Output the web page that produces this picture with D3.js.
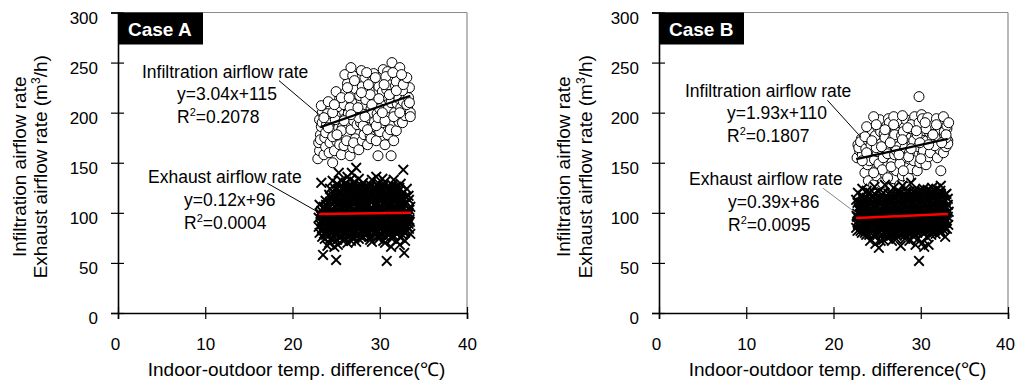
<!DOCTYPE html>
<html>
<head>
<meta charset="utf-8">
<script src="https://cdn.jsdelivr.net/npm/d3@7"></script>
<style>
  body { margin: 0; background: #fff; }
  svg { display: block; }
  text { font-family: "Liberation Sans", Arial, sans-serif; fill: #000; }
</style>
</head>
<body>
<div id="chart"></div>
<script>
// x = indoor-outdoor temp. difference (C), y = airflow rate (m3/h)
var xTicks = [0, 10, 20, 30, 40];
var yTicks = [0, 50, 100, 150, 200, 250, 300];
var caseNames = ["Case A", "Case B"];

// Case A infiltration (circles)
var infA = [
  [22.9,154],[23.1,162],[23.0,170],[23.2,178],[23.3,186],[23.1,193],[23.4,200],[23.3,207],[23.2,173],[23.4,190],
  [23.6,158],[23.8,166],[23.7,175],[24.0,182],[23.9,188],[24.2,196],[24.4,204],[24.1,211],[24.3,170],[23.8,180],[24.4,192],[24.0,199],[24.2,160],
  [24.6,150],[24.8,162],[25.1,171],[24.7,180],[25.3,189],[24.9,197],[25.2,206],[25.4,214],[25.0,221],[24.6,176],[25.3,185],[24.9,193],[25.4,168],
  [25.6,158],[25.9,167],[26.2,176],[25.7,185],[26.0,194],[26.4,203],[25.8,212],[26.1,220],[26.3,229],[26.0,238],[25.6,182],[26.4,199],[25.9,208],[26.2,172],
  [26.6,157],[26.9,165],[27.2,174],[26.7,183],[27.0,192],[27.4,201],[26.8,210],[27.1,219],[27.3,228],[26.9,237],[26.7,245],[27.4,188],[26.6,205],[27.2,224],[27.0,170],
  [27.6,163],[28.0,172],[28.3,181],[27.8,190],[28.1,199],[28.4,208],[27.7,217],[28.0,226],[28.3,235],[27.9,242],[28.2,178],[27.6,195],[28.4,213],[28.1,187],
  [28.6,168],[28.9,177],[29.2,186],[28.7,195],[29.0,204],[29.4,213],[28.8,222],[29.1,231],[29.3,239],[28.6,183],[29.2,200],[28.9,218],[29.4,191],[29.0,174],
  [29.8,157],[29.6,172],[30.0,181],[30.3,190],[29.7,199],[30.1,208],[30.4,217],[29.9,226],[30.2,235],[30.4,243],[29.6,187],[30.0,204],[30.3,221],[29.8,195],
  [31.3,157],[30.6,168],[30.9,178],[31.2,187],[30.7,196],[31.0,205],[31.4,214],[30.8,223],[31.1,232],[30.9,241],[31.4,250],[30.6,192],[31.3,210],[31.0,228],[31.2,183],
  [31.6,172],[31.9,182],[32.2,191],[31.7,200],[32.0,209],[32.4,218],[31.8,227],[32.1,236],[32.3,245],[31.6,196],[32.2,214],[31.9,231],[32.4,205],
  [32.6,190],[32.9,197],[33.2,204],[32.7,211],[33.0,218],[33.4,225],[32.8,232],[33.5,200],[33.1,208],[33.3,215],[32.6,222],[33.5,196],
  [23.6,195],[24.1,185],[24.6,200],[25.1,178],[25.6,215],[25.9,192],[26.3,225],[26.7,198],[27.1,232],[27.5,205],[27.9,220],[28.3,196],[28.7,228],[29.1,208],[29.5,235],
  [29.9,214],[30.3,200],[30.7,236],[31.1,218],[31.5,240],[31.9,222],[32.3,200],[32.7,228],[33.1,235],[33.4,210],[32.5,238],[30.5,228],[28.5,240],[26.5,215],[24.8,208]
];

// Case A exhaust (crosses)
var exhA = [
  [23.1,80],[23.2,88],[23.0,95],[23.3,102],[23.1,108],[23.4,84],[23.3,92],[23.2,99],[23.4,76],[23.5,58],[23.3,130],[23.0,86],
  [23.6,79],[23.8,86],[23.7,93],[23.9,100],[23.6,106],[23.8,112],[23.7,74],[23.9,82],[23.6,97],[23.8,104],[24.0,67],[23.7,90],
  [24.1,77],[24.3,84],[24.2,91],[24.4,98],[24.1,105],[24.3,111],[24.2,118],[24.4,80],[24.1,94],[24.3,101],[24.2,70],[24.4,88],[24.3,124],
  [24.6,75],[24.8,82],[24.7,89],[24.9,96],[24.6,103],[24.8,110],[24.7,117],[24.9,124],[24.6,86],[24.8,93],[24.7,100],[24.9,79],[25.0,53],[24.8,66],[24.6,132],
  [25.1,73],[25.3,80],[25.2,87],[25.4,94],[25.1,101],[25.3,108],[25.2,115],[25.4,122],[25.1,129],[25.3,84],[25.2,97],[25.4,111],[25.3,140],[25.2,68],
  [25.6,76],[25.8,83],[25.7,90],[25.9,97],[25.6,104],[25.8,111],[25.7,118],[25.9,125],[25.6,132],[25.8,79],[25.7,94],[25.9,107],[25.6,120],[25.8,72],
  [26.1,74],[26.3,81],[26.2,88],[26.4,95],[26.1,102],[26.3,109],[26.2,116],[26.4,123],[26.1,130],[26.3,136],[26.2,85],[26.4,99],[26.1,113],[26.3,70],
  [26.6,77],[26.8,84],[26.7,91],[26.9,98],[26.6,105],[26.8,112],[26.7,119],[26.9,126],[26.6,133],[26.8,140],[26.7,80],[26.9,94],[26.6,108],[26.8,122],[26.7,72],
  [27.1,75],[27.3,82],[27.2,89],[27.4,96],[27.1,103],[27.3,110],[27.2,117],[27.4,124],[27.1,131],[27.3,145],[27.2,86],[27.4,100],[27.1,114],[27.3,71],
  [27.6,78],[27.8,85],[27.7,92],[27.9,99],[27.6,106],[27.8,113],[27.7,120],[27.9,127],[27.6,134],[27.8,81],[27.7,95],[27.9,109],[27.6,74],
  [28.1,76],[28.3,83],[28.2,90],[28.4,97],[28.1,104],[28.3,111],[28.2,118],[28.4,125],[28.1,87],[28.3,101],[28.2,114],[28.4,79],[28.1,130],
  [28.6,79],[28.8,86],[28.7,93],[28.9,100],[28.6,107],[28.8,114],[28.7,121],[28.9,128],[28.6,89],[28.8,103],[28.7,117],[28.9,73],[28.6,82],
  [29.1,77],[29.3,84],[29.2,91],[29.4,98],[29.1,105],[29.3,112],[29.2,119],[29.4,126],[29.1,133],[29.3,88],[29.2,102],[29.4,115],[29.1,71],
  [29.6,80],[29.8,87],[29.7,94],[29.9,101],[29.6,108],[29.8,115],[29.7,122],[29.9,129],[29.6,84],[29.8,98],[29.7,111],[29.9,74],[29.6,136],
  [30.1,78],[30.3,85],[30.2,92],[30.4,99],[30.1,106],[30.3,113],[30.2,120],[30.4,127],[30.1,89],[30.3,103],[30.2,116],[30.4,72],[30.3,134],
  [30.6,76],[30.8,83],[30.7,90],[30.9,97],[30.6,104],[30.8,111],[30.7,118],[30.9,125],[30.6,131],[30.8,87],[30.7,101],[30.9,114],[30.8,52],[30.6,70],
  [31.1,79],[31.3,86],[31.2,93],[31.4,100],[31.1,107],[31.3,114],[31.2,121],[31.4,128],[31.1,83],[31.3,97],[31.2,110],[31.4,74],[31.3,66],
  [31.6,77],[31.8,84],[31.7,91],[31.9,98],[31.6,105],[31.8,112],[31.7,119],[31.9,126],[31.6,88],[31.8,102],[31.7,115],[31.9,72],[31.6,133],
  [32.1,80],[32.3,87],[32.2,94],[32.4,101],[32.1,108],[32.3,115],[32.2,122],[32.4,129],[32.1,84],[32.3,98],[32.2,111],[32.4,75],[32.3,68],
  [32.6,78],[32.8,85],[32.7,92],[32.9,99],[32.6,106],[32.8,113],[32.7,120],[32.9,81],[32.6,95],[32.8,109],[32.7,143],[32.9,72],[32.8,60],
  [33.1,82],[33.3,89],[33.2,96],[33.4,103],[33.1,110],[33.3,117],[33.2,86],[33.4,93],[33.3,100],[33.1,124],[33.5,79],
  [23.35,82],[23.45,89],[23.25,97],[23.5,105],
  [23.85,78],[23.95,85],[23.75,92],[24.0,99],[23.85,108],
  [24.35,74],[24.45,81],[24.25,88],[24.5,95],[24.35,102],[24.4,115],
  [24.85,78],[24.95,85],[24.75,92],[25.0,99],[24.85,106],[24.9,113],[24.75,120],
  [25.35,76],[25.45,83],[25.25,90],[25.5,98],[25.35,105],[25.45,112],[25.25,119],[25.4,126],
  [25.85,74],[25.95,81],[25.75,88],[26.0,95],[25.85,102],[25.95,109],[25.75,116],[25.85,123],
  [26.35,77],[26.45,84],[26.25,91],[26.5,98],[26.35,105],[26.45,112],[26.25,119],[26.4,127],
  [26.85,75],[26.95,82],[26.75,89],[27.0,96],[26.85,103],[26.95,110],[26.75,117],[26.85,124],
  [27.35,78],[27.45,85],[27.25,92],[27.5,99],[27.35,106],[27.45,113],[27.25,120],[27.4,127],
  [27.85,76],[27.95,83],[27.75,90],[28.0,97],[27.85,104],[27.95,111],[27.75,118],[27.85,124],
  [28.35,79],[28.45,86],[28.25,93],[28.5,100],[28.35,107],[28.45,114],[28.25,121],
  [28.85,76],[28.95,83],[28.75,90],[29.0,97],[28.85,104],[28.95,111],[28.75,118],[28.85,125],
  [29.35,80],[29.45,87],[29.25,94],[29.5,101],[29.35,108],[29.45,115],[29.25,122],
  [29.85,77],[29.95,84],[29.75,91],[30.0,98],[29.85,105],[29.95,112],[29.75,119],[29.85,126],
  [30.35,81],[30.45,88],[30.25,95],[30.5,102],[30.35,109],[30.45,116],[30.25,123],
  [30.85,79],[30.95,86],[30.75,93],[31.0,100],[30.85,107],[30.95,114],[30.75,121],
  [31.35,82],[31.45,89],[31.25,96],[31.5,103],[31.35,110],[31.45,117],[31.25,124],
  [31.85,80],[31.95,87],[31.75,94],[32.0,101],[31.85,108],[31.95,115],[31.75,122],
  [32.35,83],[32.45,90],[32.25,97],[32.5,104],[32.35,111],[32.45,118],[32.25,125],
  [32.85,80],[32.95,88],[32.75,95],[33.0,102],[32.85,109],[32.95,116],
  [33.35,84],[33.45,91],[33.25,98],[33.5,106],[33.35,113]
];

// Case B infiltration (circles)
var infB = [
  [22.7,155],[23.0,162],[22.8,168],[23.2,174],[23.3,158],[22.9,165],[23.1,171],
  [23.6,140],[23.9,148],[24.2,156],[23.7,164],[24.0,172],[24.4,180],[23.8,186],[24.1,152],[24.3,168],[23.6,176],[24.0,132],
  [24.6,128],[24.9,137],[25.2,145],[24.7,153],[25.0,161],[25.4,169],[24.8,177],[25.1,185],[25.3,193],[24.6,196],[25.2,149],[24.9,165],[25.4,181],
  [25.6,130],[25.9,139],[26.2,147],[25.7,155],[26.0,163],[26.4,171],[25.8,179],[26.1,187],[26.3,194],[25.6,143],[26.2,159],[25.9,175],[26.4,190],
  [26.6,125],[26.9,134],[27.2,142],[26.7,150],[27.0,158],[27.4,166],[26.8,174],[27.1,182],[27.3,190],[26.9,196],[26.6,146],[27.2,162],[27.0,178],
  [27.6,128],[27.9,137],[28.2,145],[27.7,153],[28.0,161],[28.4,169],[27.8,177],[28.1,185],[28.3,193],[27.9,197],[27.6,149],[28.2,165],[28.0,181],
  [28.6,135],[28.9,144],[29.2,152],[28.7,160],[29.0,168],[29.4,176],[28.8,184],[29.1,192],[29.3,196],[28.6,156],[29.2,172],[28.9,188],
  [29.6,142],[29.9,150],[30.2,158],[29.7,166],[30.0,174],[30.4,182],[29.8,190],[30.1,198],[29.8,216],[30.3,162],[29.6,178],[30.2,194],
  [30.6,148],[30.9,156],[31.2,164],[30.7,172],[31.0,180],[31.4,188],[30.8,195],[31.1,160],[31.3,176],[30.6,184],
  [32.3,142],[31.9,155],[32.2,163],[31.7,171],[32.0,179],[32.4,187],[31.8,194],[31.6,167],[32.1,175],[32.3,183],
  [32.6,160],[32.9,166],[33.1,172],[32.7,178],[33.0,184],[32.8,190],[32.6,196],[33.1,169],[32.9,175],[32.7,181],[33.0,187],
  [23.3,152],[23.8,160],[24.4,172],[24.9,188],[25.5,166],[25.9,183],[26.5,170],[26.9,188],[27.5,158],[27.9,173],[28.5,185],[28.9,164],[29.5,182],
  [29.9,170],[30.5,190],[30.9,168],[31.4,178],[31.8,188],[32.4,170],[32.9,178],[33.2,190],[24.6,140],[26.2,135],[28.0,142],[30.0,154]
];

// Case B exhaust (crosses)
var exhB = [
  [22.6,85],[22.8,92],[22.7,99],[22.9,106],[22.6,113],[22.8,88],[22.7,96],[22.9,103],[22.8,120],
  [23.1,82],[23.3,89],[23.2,96],[23.4,103],[23.1,110],[23.3,117],[23.2,86],[23.4,100],[23.1,93],[23.3,124],
  [23.6,80],[23.8,87],[23.7,94],[23.9,101],[23.6,108],[23.8,115],[23.7,84],[23.9,97],[23.6,91],[23.8,122],
  [24.1,78],[24.3,85],[24.2,92],[24.4,99],[24.1,106],[24.3,113],[24.2,120],[24.4,82],[24.1,95],[24.3,109],[24.2,72],
  [24.6,77],[24.8,84],[24.7,91],[24.9,98],[24.6,105],[24.8,112],[24.7,119],[24.9,88],[24.6,101],[24.8,69],[24.7,126],
  [25.1,79],[25.3,86],[25.2,93],[25.4,100],[25.1,107],[25.3,114],[25.2,121],[25.4,83],[25.1,96],[25.3,110],[25.2,65],[25.4,72],
  [25.6,78],[25.8,85],[25.7,92],[25.9,99],[25.6,106],[25.8,113],[25.7,120],[25.9,82],[25.6,95],[25.8,108],[25.7,73],[25.9,128],
  [26.1,80],[26.3,87],[26.2,94],[26.4,101],[26.1,108],[26.3,115],[26.2,84],[26.4,97],[26.1,91],[26.3,119],[26.2,75],
  [26.6,77],[26.8,84],[26.7,91],[26.9,98],[26.6,105],[26.8,112],[26.7,119],[26.9,81],[26.6,94],[26.8,107],[26.7,72],[26.9,125],
  [27.1,79],[27.3,86],[27.2,93],[27.4,100],[27.1,107],[27.3,114],[27.2,83],[27.4,96],[27.1,90],[27.3,121],[27.2,74],
  [27.6,78],[27.8,85],[27.7,92],[27.9,99],[27.6,106],[27.8,113],[27.7,120],[27.9,82],[27.6,95],[27.8,109],[27.7,67],[27.9,127],
  [28.1,80],[28.3,87],[28.2,94],[28.4,101],[28.1,108],[28.3,115],[28.2,84],[28.4,97],[28.1,91],[28.3,121],[28.2,74],
  [28.6,79],[28.8,86],[28.7,93],[28.9,100],[28.6,107],[28.8,114],[28.7,121],[28.9,83],[28.6,96],[28.8,110],[28.7,72],[28.9,130],
  [29.1,81],[29.3,88],[29.2,95],[29.4,102],[29.1,109],[29.3,116],[29.2,85],[29.4,98],[29.1,92],[29.3,123],[29.2,76],[29.4,68],
  [29.6,80],[29.8,87],[29.7,94],[29.9,101],[29.6,108],[29.8,115],[29.7,84],[29.9,97],[29.6,91],[29.8,122],[29.8,52],[29.7,74],
  [30.1,82],[30.3,89],[30.2,96],[30.4,103],[30.1,110],[30.3,117],[30.2,86],[30.4,99],[30.1,93],[30.3,124],[30.2,70],[30.4,66],
  [30.6,81],[30.8,88],[30.7,95],[30.9,102],[30.6,109],[30.8,116],[30.7,85],[30.9,98],[30.6,92],[30.8,123],[30.7,76],[30.9,68],
  [31.1,83],[31.3,90],[31.2,97],[31.4,104],[31.1,111],[31.3,118],[31.2,87],[31.4,100],[31.1,94],[31.3,125],[31.2,78],
  [31.6,82],[31.8,89],[31.7,96],[31.9,103],[31.6,110],[31.8,117],[31.7,86],[31.9,99],[31.6,93],[31.8,124],[31.7,79],
  [32.1,84],[32.3,91],[32.2,98],[32.4,105],[32.1,112],[32.3,119],[32.2,88],[32.4,101],[32.1,95],[32.3,127],[32.2,80],
  [32.6,83],[32.8,90],[32.7,97],[32.9,104],[32.6,111],[32.8,118],[32.7,87],[33.0,100],[32.9,93],[33.1,108],[33.0,84],[32.8,76],[33.1,96],
  [22.75,82],[22.85,90],[22.65,97],[22.9,104],[22.75,110],
  [23.25,80],[23.35,87],[23.15,94],[23.4,101],[23.25,108],[23.35,114],
  [23.75,78],[23.85,85],[23.65,92],[23.9,99],[23.75,106],[23.85,112],
  [24.25,80],[24.35,88],[24.15,95],[24.4,102],[24.25,109],[24.35,116],
  [24.75,79],[24.85,86],[24.65,93],[24.9,100],[24.75,107],[24.85,114],
  [25.25,81],[25.35,88],[25.15,95],[25.4,102],[25.25,109],[25.35,116],
  [25.75,80],[25.85,87],[25.65,94],[25.9,101],[25.75,108],[25.85,115],
  [26.25,78],[26.35,85],[26.15,92],[26.4,99],[26.25,106],[26.35,113],
  [26.75,80],[26.85,87],[26.65,94],[26.9,101],[26.75,108],[26.85,115],
  [27.25,77],[27.35,84],[27.15,91],[27.4,98],[27.25,105],[27.35,112],[27.25,118],
  [27.75,80],[27.85,87],[27.65,94],[27.9,101],[27.75,108],[27.85,115],
  [28.25,78],[28.35,85],[28.15,92],[28.4,99],[28.25,106],[28.35,113],[28.25,118],
  [28.75,81],[28.85,88],[28.65,95],[28.9,102],[28.75,109],[28.85,116],
  [29.25,79],[29.35,86],[29.15,93],[29.4,100],[29.25,107],[29.35,114],[29.25,120],
  [29.75,82],[29.85,89],[29.65,96],[29.9,103],[29.75,110],[29.85,117],
  [30.25,80],[30.35,87],[30.15,94],[30.4,101],[30.25,108],[30.35,115],[30.25,121],
  [30.75,83],[30.85,90],[30.65,97],[30.9,104],[30.75,111],[30.85,118],
  [31.25,81],[31.35,88],[31.15,95],[31.4,102],[31.25,109],[31.35,116],[31.25,121],
  [31.75,84],[31.85,91],[31.65,98],[31.9,105],[31.75,112],[31.85,119],
  [32.25,82],[32.35,89],[32.15,96],[32.4,103],[32.25,110],[32.35,117],[32.25,122],
  [32.75,85],[32.85,92],[32.65,99],[32.9,106],[32.75,113],[32.95,119],
  [33.15,88],[33.2,101],[33.1,114]
];

// regression lines: slope, intercept, x from, x to
var fitInfA = [3.04, 115, 23.2, 33.5];
var fitExhA = [0.12, 96, 23.0, 33.6];
var fitInfB = [1.93, 110, 22.6, 33.1];
var fitExhB = [0.39, 86, 22.6, 33.1];

var eqInfA = ["y=3.04x+115", "0.2078"];
var eqExhA = ["y=0.12x+96", "0.0004"];
var eqInfB = ["y=1.93x+110", "0.1807"];
var eqExhB = ["y=0.39x+86", "0.0095"];

var width = 1016, height = 385;
var svg = d3.select("#chart").append("svg")
    .attr("width", width)
    .attr("height", height);

function drawPanel(left, name, inf, exh, fitInf, fitExh, eqInf, eqExh, lay) {
  var x = d3.scaleLinear().domain([0, 40]).range([left, left + 349]);
  var y = d3.scaleLinear().domain([0, 300]).range([313, 12.5]);
  var g = svg.append("g");

  // frame: top and right in grey
  g.append("line").attr("x1", x(0)).attr("x2", x(40)).attr("y1", y(300)).attr("y2", y(300))
    .attr("stroke", "#8c8c8c").attr("stroke-width", 1.2);
  g.append("line").attr("x1", x(40)).attr("x2", x(40)).attr("y1", y(300)).attr("y2", y(0))
    .attr("stroke", "#8c8c8c").attr("stroke-width", 1.2);

  var ya = g.append("g").attr("transform", "translate(" + x(0) + ",0)")
    .call(d3.axisLeft(y).tickValues(yTicks).tickSize(7).tickPadding(13));
  ya.selectAll("line").attr("x1", 6).attr("stroke", "#000").attr("stroke-width", 1.2);
  ya.select(".domain").attr("stroke", "#000").attr("stroke-width", 1.6);
  ya.selectAll("text").attr("font-size", 17).attr("dy", "0.62em")
    .attr("font-family", "Liberation Sans, Arial, sans-serif");

  var xa = g.append("g").attr("transform", "translate(0," + y(0) + ")")
    .call(d3.axisBottom(x).tickValues(xTicks).tickSize(6).tickPadding(19));
  xa.selectAll("line").attr("y1", -6).attr("stroke", "#000").attr("stroke-width", 1.2);
  xa.select(".domain").attr("stroke", "#000").attr("stroke-width", 1.6);
  xa.selectAll("text").attr("font-size", 17)
    .attr("font-family", "Liberation Sans, Arial, sans-serif")
    .attr("dx", d => (d === 40 ? -lay.lastShift : d === 0 ? -3 : 0));

  // case badge
  g.append("rect").attr("x", x(0) + 1).attr("y", y(300))
    .attr("width", 84).attr("height", 32).attr("fill", "#000");
  g.append("text").attr("x", x(0) + 10).attr("y", y(300) + 23)
    .attr("font-size", 19).attr("font-weight", "bold").style("fill", "#fff")
    .text(name);

  // infiltration circles
  g.append("g").selectAll("circle").data(inf).join("circle")
    .attr("cx", d => x(d[0])).attr("cy", d => y(d[1])).attr("r", 5)
    .attr("fill", "#fff").attr("stroke", "#000").attr("stroke-width", 1);

  // exhaust crosses
  g.append("g").selectAll("path").data(exh).join("path")
    .attr("d", d => {
      var cx = x(d[0]), cy = y(d[1]), s = 4.8;
      return "M" + (cx - s) + "," + (cy - s) + "L" + (cx + s) + "," + (cy + s) +
             "M" + (cx - s) + "," + (cy + s) + "L" + (cx + s) + "," + (cy - s);
    })
    .attr("stroke", "#000").attr("stroke-width", 1.9).attr("fill", "none");

  var line = d3.line().x(d => x(d[0])).y(d => y(d[1]));
  function ends(f) { return [[f[2], f[0] * f[2] + f[1]], [f[3], f[0] * f[3] + f[1]]]; }
  g.append("path").attr("d", line(ends(fitInf))).attr("stroke", "#000")
    .attr("stroke-width", 2.2).attr("fill", "none");
  g.append("path").attr("d", line(ends(fitExh))).attr("stroke", "#ff0000")
    .attr("stroke-width", 2.6).attr("fill", "none");

  // leader lines (data coordinates)
  g.append("path").attr("d", line(lay.leadInf)).attr("stroke", "#000").attr("stroke-width", 1);
  g.append("path").attr("d", line(lay.leadExh)).attr("stroke", lay.leadExhColor).attr("stroke-width", 1);

  // annotation texts
  function label(px, py, txt) {
    return g.append("text").attr("x", left + px).attr("y", py).attr("font-size", 17.5).text(txt);
  }
  function r2(px, py, val) {
    var t = g.append("text").attr("x", left + px).attr("y", py).attr("font-size", 17.5);
    t.append("tspan").text("R");
    t.append("tspan").attr("font-size", 11).attr("dy", -7).text("2");
    t.append("tspan").attr("dy", 7).text("=" + val);
  }
  label(lay.inf[0], lay.inf[1], "Infiltration airflow rate");
  label(lay.inf[2], lay.inf[1] + 22, eqInf[0]);
  r2(lay.inf[2], lay.inf[1] + 45, eqInf[1]);
  label(lay.exh[0], lay.exh[1], "Exhaust airflow rate");
  label(lay.exh[2], lay.exh[1] + 23, eqExh[0]);
  r2(lay.exh[2], lay.exh[1] + 46, eqExh[1]);

  // axis titles
  var yt = g.append("text").attr("transform", "translate(" + (left - lay.yTitle) + "," + y(146) + ") rotate(-90)")
    .attr("text-anchor", "middle").attr("font-size", 19);
  yt.append("tspan").attr("x", 0).attr("y", 0).text("Infiltration airflow rate");
  var l2 = yt.append("tspan").attr("x", 0).attr("y", lay.yGap);
  l2.append("tspan").text("Exhaust airflow rate (m");
  l2.append("tspan").attr("font-size", 12).attr("dy", -7).text("3");
  l2.append("tspan").attr("dy", 7).text("/h)");

  g.append("text").attr("x", x(20) + 4).attr("y", 376).attr("text-anchor", "middle")
    .attr("font-size", 19).text("Indoor-outdoor temp. difference(\u2103)");
}

drawPanel(118, caseNames[0], infA, exhA, fitInfA, fitExhA, eqInfA, eqExhA, {
  inf: [24, 78, 59], exh: [30, 183, 66],
  leadInf: [[18.45, 232], [23.2, 197]],
  leadExh: [[17.1, 129.6], [23.15, 99.7]],
  leadExhColor: "#000", lastShift: 0,
  yTitle: 92, yGap: 21
});
drawPanel(659, caseNames[1], infB, exhB, fitInfB, fitExhB, eqInfB, eqExhB, {
  inf: [26, 97, 68], exh: [30, 185, 69],
  leadInf: [[19.3, 212.4], [23.15, 175.5]],
  leadExh: [[18.8, 124.6], [22.6, 99.7]],
  leadExhColor: "#888", lastShift: 3,
  yTitle: 89, yGap: 22
});
</script>
</body>
</html>
